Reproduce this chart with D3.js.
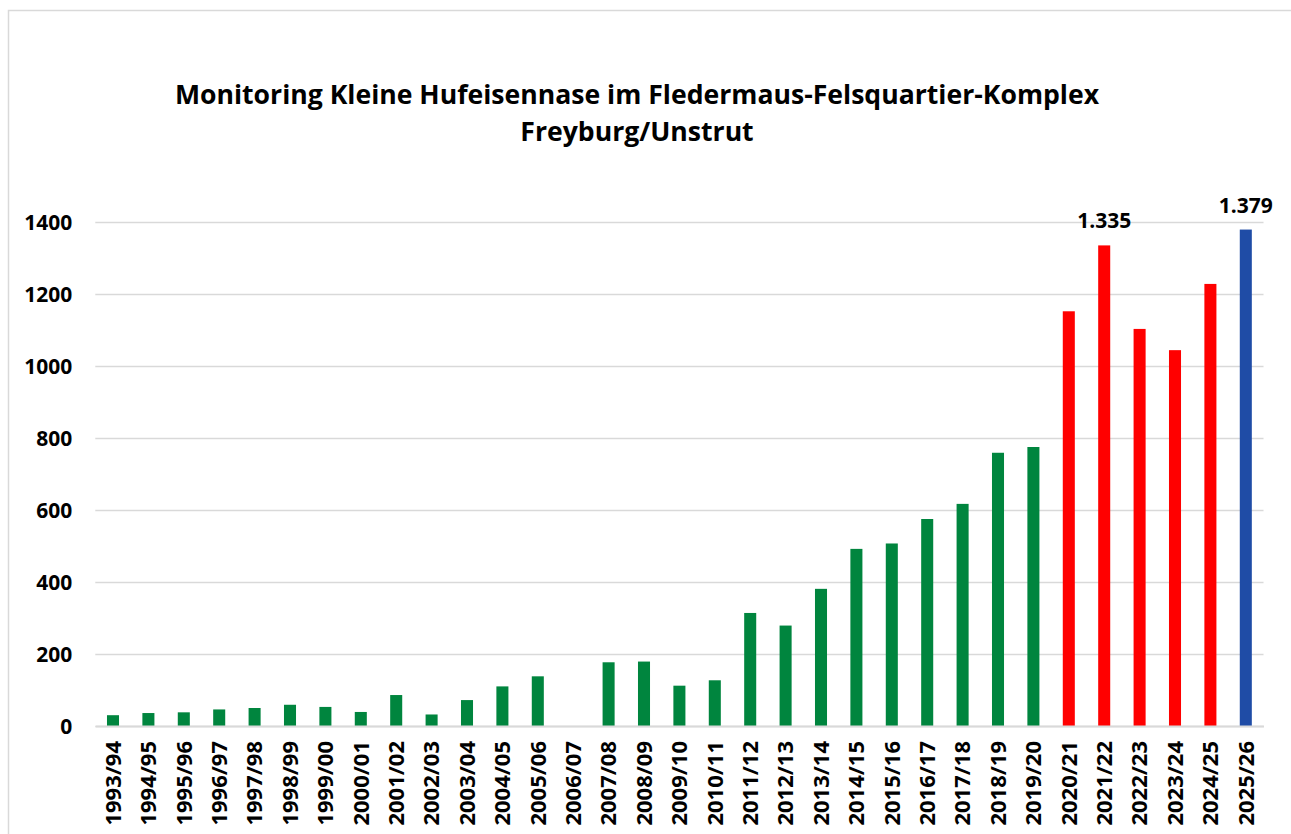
<!DOCTYPE html>
<html>
<head>
<meta charset="utf-8">
<script src="https://cdn.jsdelivr.net/npm/d3@7"></script>
<style>
    body { margin: 0; background: #fff; }
    svg { display: block; font-family: 'Open Sans', 'Noto Sans', sans-serif; }
</style>
</head>
<body>
<svg id="chart"></svg>
<script>
const seasons = [
    '1993/94', '1994/95', '1995/96', '1996/97', '1997/98', '1998/99', '1999/00',
    '2000/01', '2001/02', '2002/03', '2003/04', '2004/05', '2005/06', '2006/07',
    '2007/08', '2008/09', '2009/10', '2010/11', '2011/12', '2012/13', '2013/14',
    '2014/15', '2015/16', '2016/17', '2017/18', '2018/19', '2019/20', '2020/21',
    '2021/22', '2022/23', '2023/24', '2024/25', '2025/26'
]
// 2006/07 was not counted
const counts = [
    30, 36, 38, 46, 50, 59, 53,
    39, 86, 32, 72, 110, 138, null,
    177, 179, 112, 127, 314, 279, 381,
    492, 507, 575, 617, 759, 775, 1152,
    1335, 1103, 1044, 1228, 1379
]
const periods = [
    'bis 2019/20', 'bis 2019/20', 'bis 2019/20', 'bis 2019/20', 'bis 2019/20', 'bis 2019/20', 'bis 2019/20',
    'bis 2019/20', 'bis 2019/20', 'bis 2019/20', 'bis 2019/20', 'bis 2019/20', 'bis 2019/20', 'bis 2019/20',
    'bis 2019/20', 'bis 2019/20', 'bis 2019/20', 'bis 2019/20', 'bis 2019/20', 'bis 2019/20', 'bis 2019/20',
    'bis 2019/20', 'bis 2019/20', 'bis 2019/20', 'bis 2019/20', 'bis 2019/20', 'bis 2019/20', 'ab 2020/21',
    'ab 2020/21', 'ab 2020/21', 'ab 2020/21', 'ab 2020/21', 'aktuell'
]
const labelled = ['2021/22', '2025/26']
const yTicks = [0, 200, 400, 600, 800, 1000, 1200, 1400]
const titleLines = ['Monitoring Kleine Hufeisennase im Fledermaus-Felsquartier-Komplex', 'Freyburg/Unstrut']

const width = 1291
const height = 834
const margin = { top: 222, right: 27.5, bottom: 108, left: 95.3 }

const data = seasons.map((s, i) => ({ season: s, count: counts[i], period: periods[i] }))

const svg = d3.select('#chart')
    .attr('width', width)
    .attr('height', height)

// chart frame
svg.append('rect')
    .attr('x', 8.5)
    .attr('y', 10.5)
    .attr('width', width + 20)
    .attr('height', height + 20)
    .attr('fill', 'none')
    .attr('stroke', '#d9d9d9')
    .attr('stroke-width', 1.5)

const x = d3
    .scaleBand()
    .domain(seasons)
    .range([margin.left, width - margin.right])
    .paddingInner(0.66)
    .paddingOuter(0.33)

const y = d3
    .scaleLinear()
    .domain([0, 1400])
    .range([height - margin.bottom, margin.top])

const color = d3
    .scaleOrdinal()
    .domain(['bis 2019/20', 'ab 2020/21', 'aktuell'])
    .range(['#00853e', '#ff0000', '#1f4ca6'])

// title
svg.append('text')
    .attr('x', 637)
    .attr('y', 104)
    .attr('text-anchor', 'middle')
    .style('font-size', '26.6px')
    .style('font-weight', 700)
    .selectAll('tspan')
    .data(titleLines)
    .join('tspan')
    .attr('x', 637)
    .attr('dy', (d, i) => i === 0 ? 0 : 37)
    .text(d => d)

// y axis with gridlines
const yAxis = svg.append('g')
    .attr('transform', `translate(${margin.left},0)`)
    .call(d3.axisLeft(y)
        .tickValues(yTicks)
        .tickFormat(d3.format('d'))
        .tickSize(-(width - margin.left - margin.right))
        .tickPadding(23))

yAxis.select('.domain').remove()
yAxis.selectAll('.tick line')
    .attr('stroke', '#d9d9d9')
    .attr('stroke-width', 1.5)
yAxis.selectAll('.tick text')
    .attr('fill', '#000')
    .attr('dy', '0.35em')
    .style('font-size', '21px')
    .style('font-weight', 700)
    .style('font-family', "'Open Sans', sans-serif")

// bars
svg.append('g')
    .selectAll('.bar')
    .data(data.filter(d => d.count != null))
    .join('rect')
    .attr('class', 'bar')
    .attr('x', d => x(d.season))
    .attr('width', x.bandwidth())
    .attr('y', d => y(d.count))
    .attr('height', d => y(0) - y(d.count))
    .attr('fill', d => color(d.period))

// value labels on selected bars
svg.append('g')
    .selectAll('.label-text')
    .data(data.filter(d => labelled.includes(d.season)))
    .join('text')
    .attr('class', 'label-text')
    .attr('x', d => x(d.season) + x.bandwidth() / 2)
    .attr('y', d => y(d.count) - 17)
    .attr('text-anchor', 'middle')
    .style('font-size', '21px')
    .style('font-weight', 700)
    .text(d => d3.format(',')(d.count).replace(',', '.'))

// x axis, rotated season labels
const xAxis = svg.append('g')
    .attr('transform', `translate(0,${y(0)})`)
    .call(d3.axisBottom(x).tickSize(0).tickPadding(0))

xAxis.select('.domain')
    .attr('stroke', '#d9d9d9')
    .attr('stroke-width', 2)
xAxis.selectAll('.tick text')
    .attr('fill', '#000')
    .style('font-size', '22px')
    .style('font-weight', 700)
    .style('font-family', "'Open Sans', sans-serif")
    .style('text-anchor', 'end')
    .attr('y', 0)
    .attr('dy', '0.35em')
    .attr('transform', 'translate(0,15) rotate(-90)')
</script>
</body>
</html>
